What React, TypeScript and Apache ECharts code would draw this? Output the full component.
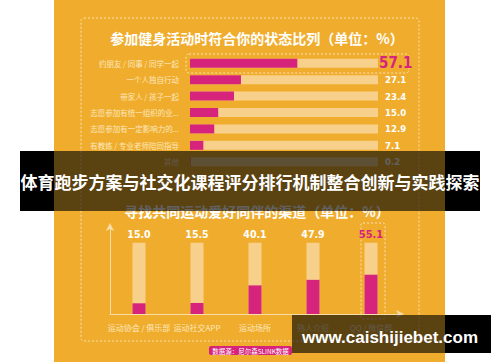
import React, { useEffect, useRef } from "react";
import * as echarts from "echarts";

const hCategories = [
  "约朋友 / 同事 / 同学一起",
  "一个人独自行动",
  "带家人 / 孩子一起",
  "志愿参加有统一组织的业...",
  "志愿参加有一定影响力的...",
  "有教练 / 专业老师陪同指导",
  "其他",
];
const hValues = [57.1, 27.1, 23.4, 15.0, 12.9, 7.1, 0.2];

const vCategories = ["运动协会 / 俱乐部", "运动社交APP", "运动场所", "熟人介绍", "QQ / 微信群"];
const vValues = [15.0, 15.5, 40.1, 47.9, 55.1];

const TRACK = 100;

const ORANGE = "#F0AD2D";
const PINK = "#D6237C";
const PEACH = "#F7D18C";
const CREAM = "#FCE7BF";
const CJK = "'Noto Sans CJK SC', sans-serif";
const NUM = "'DejaVu Sans Condensed', 'Liberation Sans Narrow', 'Liberation Sans', sans-serif";

export default function App() {
  const ref = useRef<HTMLDivElement>(null);
  useEffect(() => {
    if (!ref.current) return;
    const chart = echarts.init(ref.current, null, { renderer: "svg" });
    const numLabel = {
      show: true,
      color: "#fff",
      fontFamily: NUM,
      fontWeight: "bold" as const,
    };
    const hTrackData = hValues.map((_, i) =>
      i === 0
        ? {
            value: TRACK,
            label: { ...numLabel, position: "right", distance: 1, fontSize: 15, color: PINK },
          }
        : { value: TRACK }
    );
    const vTrackData = vValues.map((_, i) =>
      i === vValues.length - 1 ? { value: TRACK, label: { ...numLabel, position: "top", distance: 3, fontSize: 11, color: PINK } } : { value: TRACK }
    );
    chart.setOption({
      animation: false,
      backgroundColor: "#ffffff",
      textStyle: { fontFamily: CJK },
      grid: [
        { left: 190, top: 55, width: 188, height: 115 },
        { left: 110, top: 227, width: 290, height: 87 },
      ],
      xAxis: [
        { gridIndex: 0, type: "value", min: 0, max: TRACK, show: false },
        {
          gridIndex: 1,
          type: "category",
          data: vCategories,
          axisLine: { show: true, lineStyle: { color: "#F9DDA8", width: 1 }, symbol: ["none", "arrow"], symbolSize: [6, 8], symbolOffset: [0, 4] },
          axisTick: { show: false },
          axisLabel: { color: CREAM, fontSize: 8, margin: 9, interval: 0, fontFamily: CJK },
        },
      ],
      yAxis: [
        {
          gridIndex: 0,
          type: "category",
          inverse: true,
          data: hCategories,
          axisLine: { show: false },
          axisTick: { show: false },
          axisLabel: { color: CREAM, fontSize: 7.5, margin: 11, interval: 0, fontFamily: CJK },
        },
        {
          gridIndex: 1,
          type: "value",
          min: 0,
          max: 122,
          splitLine: { show: false },
          axisTick: { show: false },
          axisLabel: { show: false },
          axisLine: { show: true, lineStyle: { color: "#F9DDA8", width: 1 }, symbol: ["none", "arrow"], symbolSize: [6, 8], symbolOffset: [0, 4] },
        },
      ],
      series: [
        {
          type: "bar",
          xAxisIndex: 0,
          yAxisIndex: 0,
          data: hTrackData,
          barWidth: 9,
          itemStyle: { color: PEACH },
          silent: true,
          label: { ...numLabel, position: "right", distance: 7, fontSize: 9.5, formatter: (p: any) => hValues[p.dataIndex].toFixed(1) },
          z: 2,
        },
        {
          type: "bar",
          xAxisIndex: 0,
          yAxisIndex: 0,
          data: hValues,
          barWidth: 9,
          barGap: "-100%",
          itemStyle: { color: PINK },
          z: 3,
        },
        {
          type: "bar",
          xAxisIndex: 1,
          yAxisIndex: 1,
          data: vTrackData,
          barWidth: 13,
          itemStyle: { color: PEACH },
          silent: true,
          label: { ...numLabel, position: "top", distance: 3, fontSize: 10.5, formatter: (p: any) => vValues[p.dataIndex].toFixed(1) },
          z: 2,
        },
        {
          type: "bar",
          xAxisIndex: 1,
          yAxisIndex: 1,
          data: vValues,
          barWidth: 13,
          barGap: "-100%",
          itemStyle: { color: PINK },
          z: 3,
        },
      ],
      graphic: [
        { type: "rect", z: -10, shape: { x: 54, y: 0, width: 391, height: 362 }, style: { fill: ORANGE } },
        {
          type: "rect",
          z: 1,
          shape: { x: 81, y: 18, width: 338, height: 323, r: 3 },
          style: { fill: "none", stroke: "#F9DFAE", lineWidth: 1, lineDash: [2, 2] },
        },
        {
          type: "text",
          z: 1,
          x: 257,
          y: 38,
          style: { text: "参加健身活动时符合你的状态比列（单位：%）", fill: "#fff", font: `bold 14px ${CJK}`, align: "center", verticalAlign: "middle" },
        },
        {
          type: "rect",
          z: 1,
          shape: { x: 186, y: 54, width: 223, height: 19, r: 3 },
          style: { fill: "none", stroke: "#F9DFAE", lineWidth: 1, lineDash: [2, 2] },
        },
        {
          type: "text",
          z: 1,
          x: 257,
          y: 211,
          style: { text: "寻找共同运动爱好同伴的渠道（单位：%）", fill: "#fff", font: `bold 14px ${CJK}`, align: "center", verticalAlign: "middle" },
        },
        {
          type: "rect",
          z: 1,
          shape: { x: 361, y: 223, width: 24, height: 96, r: 2 },
          style: { fill: "none", stroke: "#F9DFAE", lineWidth: 1, lineDash: [2, 2] },
        },
        { type: "rect", z: 1, shape: { x: 209, y: 346, width: 83, height: 9, r: 2 }, style: { fill: PINK } },
        {
          type: "text",
          z: 2,
          x: 250.5,
          y: 350.5,
          style: { text: "数据源：尼尔森SLINK数据", fill: "#fff", font: `6.5px ${CJK}`, align: "center", verticalAlign: "middle" },
        },
        // title banner overlay
        { type: "rect", z: 50, shape: { x: 20, y: 151, width: 34, height: 60 }, style: { fill: "#000" } },
        { type: "rect", z: 50, shape: { x: 445, y: 151, width: 35, height: 60 }, style: { fill: "#000" } },
        { type: "rect", z: 50, shape: { x: 54, y: 151, width: 391, height: 60 }, style: { fill: "rgba(0,0,0,0.62)" } },
        {
          type: "text",
          z: 51,
          x: 250,
          y: 181,
          style: { text: "体育跑步方案与社交化课程评分排行机制整合创新与实践探索", fill: "#fff", font: `bold 17px ${CJK}`, align: "center", verticalAlign: "middle" },
        },
        // watermark overlay
        { type: "rect", z: 50, shape: { x: 292, y: 315, width: 153, height: 38 }, style: { fill: "rgba(0,0,0,0.62)" } },
        { type: "rect", z: 50, shape: { x: 445, y: 315, width: 46, height: 38 }, style: { fill: "#000" } },
        {
          type: "text",
          z: 51,
          x: 302,
          y: 337,
          style: { text: "www.caishijiebet.com", fill: "#fff", font: `bold 17px 'Liberation Sans', sans-serif`, align: "left", verticalAlign: "middle" },
        },
      ],
    });
    return () => chart.dispose();
  }, []);
  return <div ref={ref} style={{ position: "fixed", left: 0, top: 0, width: 500, height: 362 }} />;
}
